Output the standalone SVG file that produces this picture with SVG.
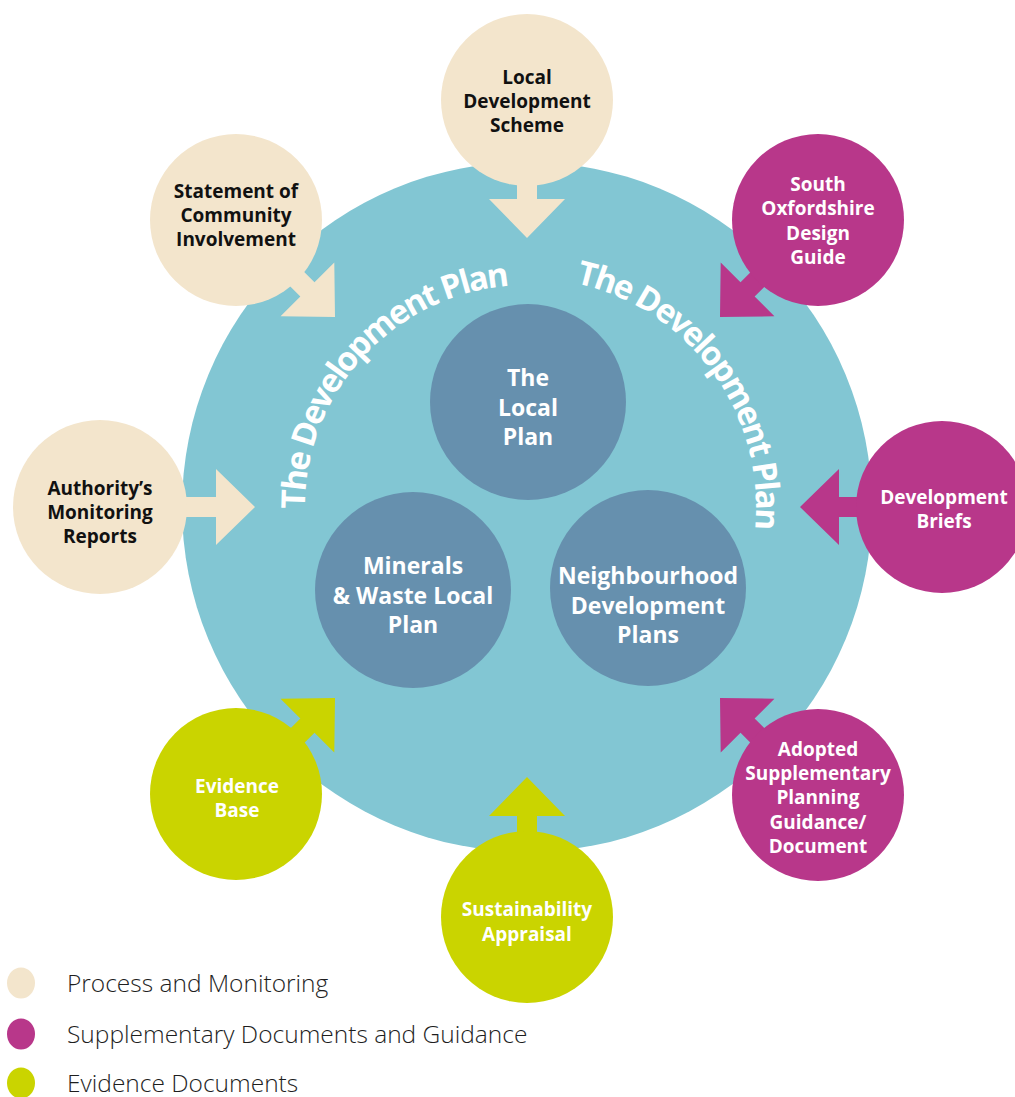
<svg xmlns="http://www.w3.org/2000/svg" width="1015" height="1097" viewBox="0 0 1015 1097">
<style>
.big{fill:#82C6D3}
.inner{fill:#6690AE}
.cream{fill:#F3E5CC}
.mag{fill:#B8378A}
.lime{fill:#CAD400}
.lbl{font-family:"Open Sans","Noto Sans",sans-serif;font-weight:bold;font-size:19px;text-anchor:middle}
.dark{fill:#111111}
.white{fill:#FFFFFF}
.ilbl{font-family:"Open Sans","Noto Sans",sans-serif;font-weight:bold;font-size:23px;text-anchor:middle;fill:#FFFFFF}
.arc{font-family:"Open Sans","Noto Sans",sans-serif;font-weight:bold;font-size:33px;letter-spacing:-2px;fill:#FFFFFF}
.leg{font-family:"Open Sans","Noto Sans",sans-serif;font-weight:300;font-size:24.5px;fill:#1E1E1E}
</style>
<defs>
<path id="arrow" d="M0,0 L-39,-38 L-39,-10 L-85,-10 L-85,10 L-39,10 L-39,38 Z"/>
<path id="arcL" d="M332.8,614.6 A222,222 0 0 1 620.8,305.8" fill="none"/>
<path id="arcR" d="M452.4,290.5 A229,229 0 0 1 714.6,638.4" fill="none"/>
</defs>

<g id="development-plan">
<circle class="big" cx="527" cy="507" r="345"/>
<text class="arc"><textPath href="#arcL" startOffset="49.5%" text-anchor="middle">The Development Plan</textPath></text>
<text class="arc"><textPath href="#arcR" startOffset="50.5%" text-anchor="middle">The Development Plan</textPath></text>
</g>

<g id="local-plan">
<circle class="inner" cx="528" cy="402" r="98"/>
<text class="ilbl" x="528" y="386">The</text>
<text class="ilbl" x="528" y="415.5">Local</text>
<text class="ilbl" x="528" y="445">Plan</text>
</g>
<g id="minerals-waste">
<circle class="inner" cx="413" cy="590" r="98"/>
<text class="ilbl" x="413" y="574">Minerals</text>
<text class="ilbl" x="413" y="603.5">&amp; Waste Local</text>
<text class="ilbl" x="413" y="633">Plan</text>
</g>
<g id="neighbourhood">
<circle class="inner" cx="648" cy="588" r="98"/>
<text class="ilbl" x="648" y="584">Neighbourhood</text>
<text class="ilbl" x="648" y="613.5">Development</text>
<text class="ilbl" x="648" y="643">Plans</text>
</g>

<g id="connectors">
<use href="#arrow" class="cream" transform="translate(527,238) rotate(90)"/>
<use href="#arrow" class="cream" transform="translate(335,317) rotate(45)"/>
<use href="#arrow" class="cream" transform="translate(255,507)"/>
<use href="#arrow" class="mag" transform="translate(720,317) rotate(135)"/>
<use href="#arrow" class="mag" transform="translate(800,507) rotate(180)"/>
<use href="#arrow" class="mag" transform="translate(720,698) rotate(-135)"/>
<use href="#arrow" class="lime" transform="translate(527,777) rotate(-90)"/>
<use href="#arrow" class="lime" transform="translate(335,698) rotate(-45)"/>
</g>

<g id="local-development-scheme">
<circle class="cream" cx="527" cy="100" r="86"/>
<text class="lbl dark"><tspan x="527" y="84">Local</tspan><tspan x="527" y="108">Development</tspan><tspan x="527" y="132">Scheme</tspan></text>
</g>
<g id="statement-community-involvement">
<circle class="cream" cx="236" cy="220" r="86"/>
<text class="lbl dark"><tspan x="236" y="198">Statement of</tspan><tspan x="236" y="222">Community</tspan><tspan x="236" y="246">Involvement</tspan></text>
</g>
<g id="authority-monitoring-reports">
<circle class="cream" cx="100" cy="507" r="87"/>
<text class="lbl dark"><tspan x="100" y="495">Authority’s</tspan><tspan x="100" y="519">Monitoring</tspan><tspan x="100" y="543">Reports</tspan></text>
</g>
<g id="south-oxfordshire-design-guide">
<circle class="mag" cx="818" cy="220" r="86"/>
<text class="lbl white"><tspan x="818" y="191">South</tspan><tspan x="818" y="215">Oxfordshire</tspan><tspan x="818" y="240">Design</tspan><tspan x="818" y="264">Guide</tspan></text>
</g>
<g id="development-briefs">
<circle class="mag" cx="942" cy="507" r="86"/>
<text class="lbl white"><tspan x="944" y="504">Development</tspan><tspan x="944" y="528">Briefs</tspan></text>
</g>
<g id="adopted-spg">
<circle class="mag" cx="818" cy="795" r="86"/>
<text class="lbl white"><tspan x="818" y="756">Adopted</tspan><tspan x="818" y="780">Supplementary</tspan><tspan x="818" y="804">Planning</tspan><tspan x="818" y="829">Guidance/</tspan><tspan x="818" y="853">Document</tspan></text>
</g>
<g id="sustainability-appraisal">
<circle class="lime" cx="527" cy="917" r="86"/>
<text class="lbl white"><tspan x="527" y="916">Sustainability</tspan><tspan x="527" y="941">Appraisal</tspan></text>
</g>
<g id="evidence-base">
<circle class="lime" cx="236" cy="794" r="86"/>
<text class="lbl white"><tspan x="237" y="793">Evidence</tspan><tspan x="237" y="817">Base</tspan></text>
</g>

<g id="legend">
<ellipse class="cream" cx="21" cy="983" rx="14" ry="15.5"/>
<text class="leg" x="67" y="992">Process and Monitoring</text>
<ellipse class="mag" cx="21" cy="1034" rx="14" ry="15.5"/>
<text class="leg" x="67" y="1043">Supplementary Documents and Guidance</text>
<ellipse class="lime" cx="21" cy="1083" rx="14" ry="15.5"/>
<text class="leg" x="67" y="1092">Evidence Documents</text>
</g>
</svg>
